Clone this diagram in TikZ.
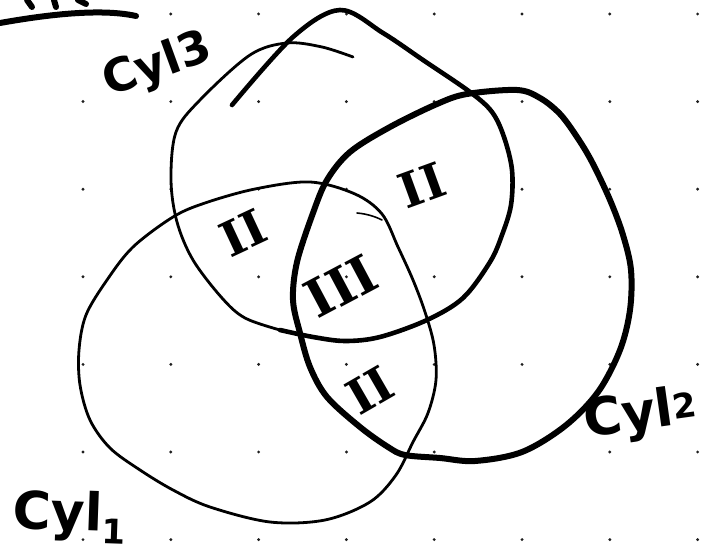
\documentclass[tikz,border=0pt]{standalone}
\usepackage{fontspec}
\newfontfamily\inkfont{DejaVu Sans}
\newfontfamily\numfont{DejaVu Serif}
\usetikzlibrary{calc}
\definecolor{InkBlk}{RGB}{0,0,0}
\definecolor{DotGray}{RGB}{30,30,30}
\newcommand{\cylsub}[2]{\raisebox{#2}{\fontsize{34}{34}\selectfont #1}}
\tikzset{
  ink/.style={draw=InkBlk,line cap=round,line join=round},
  thinink/.style={ink,line width=2.8pt},
  midink/.style={ink,line width=4.6pt},
  thickink/.style={ink,line width=6pt},
  cyllabel/.style={font=\fontsize{52}{52}\selectfont\inkfont\bfseries,inner sep=0pt},
  numeral/.style={font=\fontsize{48}{48}\selectfont\numfont\bfseries,inner sep=0pt},
}

\begin{document}
\begin{tikzpicture}[x=1pt,y=-1pt]
  \fill[white] (0,0) rectangle (728,553);
  \useasboundingbox (0,0) rectangle (728,553);
  % dotted paper
  \foreach \i in {0,...,7}
    \foreach \j in {0,...,6}
      \fill[DotGray] ({83+87.8*\i},{14+87.6*\j}) circle (1.6);
  % heading stroke, cut off at the top
  \draw[thickink] (0,23) .. controls (45,15) and (100,8) .. (136,16);
  \draw[thickink] (27,0) -- (32,7);
  \draw[thickink] (54,0) -- (56,7);
  \draw[thickink] (78,0) -- (86,4);

  % Cyl3
  \draw[midink] plot[smooth,tension=0.55] coordinates {(232,105) (293,37) (340,10) (383,33) (423,60) (470,92) (492,112) (504,137) (512,170) (511,205) (502,235) (490,262) (463,298) (427,320) (380,337) (345,341) (313,337) (280,330)};
  \draw[thinink] plot[smooth,tension=0.55] coordinates {(280,330) (245,318) (222,298) (193,260) (177,222) (171,180) (176,132) (200,100) (250,55) (287,43) (322,47) (353,57)};
  % Cyl2
  \draw[thickink] plot[smooth cycle,tension=0.55] coordinates {(467,94) (517,90) (540,98) (560,114) (577,137) (592,162) (610,200) (623,235) (631,270) (630,310) (620,350) (598,392) (565,426) (522,452) (475,461) (440,458) (405,455) (388,447) (360,427) (327,397) (310,367) (300,333) (293,300) (297,262) (313,213) (327,180) (350,152) (390,127) (437,104)};
  % Cyl1
  \draw[thinink] plot[smooth cycle,tension=0.55] coordinates {(310,182) (355,194) (382,214) (398,247) (413,280) (425,312) (434,345) (436,380) (428,413) (413,442) (396,475) (370,502) (325,520) (270,522) (210,507) (173,490) (140,470) (110,448) (90,420) (80,385) (79,350) (86,315) (107,280) (133,247) (173,217) (205,203) (255,189)};
  \draw[ink,line width=1.6pt] (357,213) .. controls (368,214) and (376,217) .. (382,220);

  % labels
  \node[cyllabel,font=\fontsize{46}{46}\selectfont\inkfont\bfseries,rotate=20] (lblC3) at (158,66) {Cyl3};
  \node[cyllabel,rotate=8,anchor=base west] (lblC2) at (586,438) {Cyl\cylsub{2}{6pt}};
  \node[cyllabel,rotate=-2,anchor=base west] (lblC1) at (12,528) {Cyl\cylsub{1}{-12pt}};

  % region numerals
  \node[numeral,rotate=25] (regA) at (243,233) {II};
  \node[numeral,rotate=20] (regB) at (422,185) {II};
  \node[numeral,rotate=28,font=\fontsize{52}{52}\selectfont\numfont\bfseries] (regC) at (341,286) {III};
  \node[numeral,rotate=30] (regD) at (370,390) {II};
\end{tikzpicture}
\end{document}
